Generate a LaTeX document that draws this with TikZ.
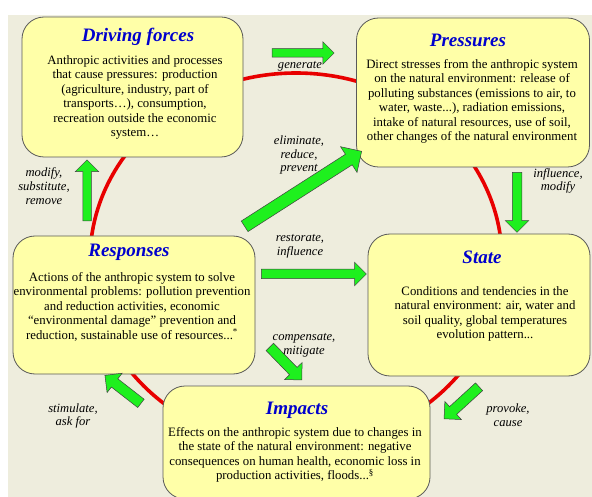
\documentclass[tikz,border=0pt]{standalone}
\usepackage{fontspec}
\setmainfont{Liberation Serif}
\usetikzlibrary{shapes.arrows,calc}

\definecolor{bgbeige}{RGB}{238,237,221}
\definecolor{boxyellow}{RGB}{255,255,168}
\definecolor{titleblue}{RGB}{0,0,205}
\definecolor{arrowgreen}{RGB}{30,240,30}
\definecolor{cyclered}{RGB}{232,0,0}

\begin{document}
\begin{tikzpicture}[x=1pt,y=-1pt]
  \tikzset{stage/.style={draw=black!65, fill=boxyellow, rounded corners=22pt, line width=0.8pt}}
  \tikzset{title/.style={font=\fontsize{19}{21}\selectfont\bfseries\itshape, text=titleblue}}
  \tikzset{body/.style={font=\fontsize{12.8}{14.5}\selectfont, align=center, inner sep=0pt}}
  \tikzset{verb/.style={font=\fontsize{12.6}{13.8}\selectfont\itshape, align=center, inner sep=0pt}}
  \tikzset{push/.style={single arrow, draw=black!75, fill=arrowgreen, line width=0.5pt,
      inner xsep=0pt, minimum width=1pt, single arrow tip angle=90,
      single arrow head indent=0pt}}
  \useasboundingbox (0,0) rectangle (592,497);
  \fill[bgbeige] (8,15) rectangle (592,497);
  % the cycle
  \draw[cyclered, line width=3.6pt] (296,260) ellipse [x radius=206pt, y radius=187pt];
  % the five stages
  \node[stage, minimum width=221pt, minimum height=140pt] (driving) at (132.5,87) {};
  \node[stage, minimum width=233pt, minimum height=149pt] (pressures) at (473,92.5) {};
  \node[stage, minimum width=242pt, minimum height=138pt] (responses) at (134,305) {};
  \node[stage, minimum width=222pt, minimum height=142pt] (state) at (479,305) {};
  \node[stage, minimum width=267pt, minimum height=113pt] (impacts) at (296.5,442.5) {};
  \node[title] (drivingtitle) at (138,37) {Driving forces};
  \node[title] (pressurestitle) at (468,40) {Pressures};
  \node[title] (responsestitle) at (129,252) {Responses};
  \node[title] (statetitle) at (482,257) {State};
  \node[title] (impactstitle) at (297,410) {Impacts};
  \node[body] (drivingtext) at (135,97.5) {Anthropic activities and processes\\
    that cause pressures: production\\(agriculture, industry, part of\\
    transports\ldots), consumption,\\recreation outside the economic\\system\ldots};
  \node[body] (pressurestext) at (472,101.5) {Direct stresses from the anthropic system\\
    on the natural environment: release of\\polluting substances (emissions to air, to\\
    water, waste...), radiation emissions,\\intake of natural resources, use of soil,\\
    other changes of the natural environment};
  \node[body] (responsestext) at (132,306.5) {Actions of the anthropic system to solve\\
    environmental problems: pollution prevention\\and reduction activities, economic\\
    ``environmental damage'' prevention and\\reduction, sustainable use of resources...\textsuperscript{*}};
  \node[body] (statetext) at (485,314) {Conditions and tendencies in the\\
    natural environment: air, water and\\soil quality, global temperatures\\evolution pattern...};
  \node[body] (impactstext) at (295,455) {Effects on the anthropic system due to changes in\\
    the state of the natural environment: negative\\consequences on human health, economic loss in\\
    production activities, floods...\textsuperscript{\S}};
  % green arrows
  \coordinate (gen-a) at (270,53);   \coordinate (gen-b) at (332,53);
  \coordinate (elim-a) at (242,228); \coordinate (elim-b) at (359,153);
  \coordinate (rest-a) at (259,274); \coordinate (rest-b) at (364,274);
  \coordinate (infl-a) at (517,170); \coordinate (infl-b) at (517,230);
  \coordinate (prov-a) at (481,385); \coordinate (prov-b) at (446,417);
  \coordinate (comp-a) at (268,345); \coordinate (comp-b) at (300,378);
  \coordinate (stim-a) at (143,405); \coordinate (stim-b) at (107,377);
  \coordinate (mod-a) at (87,223);   \coordinate (mod-b) at (87,162);
  \foreach \a/\w/\e in {gen/4/7, elim/6/9, rest/4.5/7, infl/4.5/7,
                        prov/5/7, comp/5/7, stim/5/7, mod/4/7.5}
    \path let \p1=($(\a-b)-(\a-a)$) in
      node[push, inner ysep=\w pt, single arrow head extend=\e pt,
           minimum height={veclen(\x1,\y1)}, rotate={atan2(\y1,\x1)}]
        (\a) at ($(\a-a)!0.5!(\a-b)$) {};
  % verbs
  \node[verb] (genverb) at (300,66) {generate};
  \node[verb] (elimverb) at (299,155) {eliminate,\\reduce,\\prevent};
  \node[verb] (restverb) at (300,246) {restorate,\\influence};
  \node[verb] (inflverb) at (558,181) {influence,\\modify};
  \node[verb] (provverb) at (508,415) {provoke,\\cause};
  \node[verb] (compverb) at (304,345) {compensate,\\mitigate};
  \node[verb] (stimverb) at (73,416) {stimulate,\\ask for};
  \node[verb] (modverb) at (44,186) {modify,\\substitute,\\remove};
\end{tikzpicture}
\end{document}
